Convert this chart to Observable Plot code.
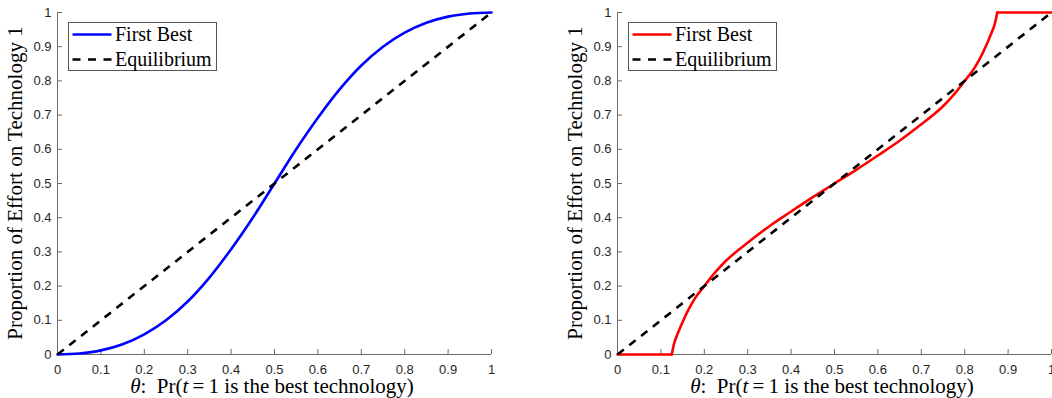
<!DOCTYPE html>
<html><head><meta charset="utf-8">
<script src="https://cdn.jsdelivr.net/npm/d3@7"></script>
<script src="https://cdn.jsdelivr.net/npm/@observablehq/plot@0.6"></script>
<style>
body{margin:0;background:#fff}
#wrap{display:flex;width:1052px;height:398px;overflow:hidden}
#wrap svg{overflow:visible;max-width:none;flex:none}
</style></head><body><div id="wrap"></div>
<script>
const xTicks = [0,0.1,0.2,0.3,0.4,0.5,0.6,0.7,0.8,0.9,1];
const yTicks = [0,0.1,0.2,0.3,0.4,0.5,0.6,0.7,0.8,0.9,1];
const tickLabels = ["0","0.1","0.2","0.3","0.4","0.5","0.6","0.7","0.8","0.9","1"];
const seriesNames = ["First Best","Equilibrium"];
const xLabelParts = [["θ",true],[":  Pr(",false],["t",true],["\u2009=\u20091 is the best technology)",false]];
const yLabel = "Proportion of Effort on Technology 1";

// Equilibrium (both panels)
const eqTheta = [0,1];
const eqShare = [0,1];

// Left panel: First Best
const leftTheta = [0,0.05,0.1,0.15,0.2,0.25,0.3,0.35,0.4,0.45,0.5,0.55,0.6,0.65,0.7,0.75,0.8,0.85,0.9,0.95,1];
const leftShare = [0,0.003,0.012,0.03,0.059,0.1,0.155,0.225,0.308,0.4,0.5,0.6,0.692,0.775,0.845,0.9,0.941,0.97,0.988,0.997,1];

// Right panel: First Best (three pieces)
const rightLowTheta = [0,0.125];
const rightLowShare = [0,0];
const rightMidTheta = [0.125,0.13,0.14,0.15,0.165,0.18,0.2,0.225,0.25,0.275,0.3,0.35,0.4,0.45,0.5,0.55,0.6,0.65,0.7,0.725,0.75,0.775,0.8,0.82,0.835,0.85,0.86,0.87,0.875];
const rightMidShare = [0,0.03,0.065,0.095,0.135,0.167,0.2,0.24,0.274,0.302,0.327,0.375,0.418,0.46,0.5,0.54,0.582,0.625,0.673,0.698,0.726,0.76,0.8,0.833,0.865,0.905,0.935,0.97,1];
const rightHighTheta = [0.875,1];
const rightHighShare = [1,1];

const zip = (xs, ys) => xs.map((x, i) => ({theta: x, share: ys[i]}));
const axisColor = "#6a6a6a";
const serif = "'Liberation Serif','Times New Roman',serif";
const sans = "'Liberation Sans',Arial,sans-serif";
const fmt = d => tickLabels[Math.round(d * 10)];

function chart({width, marginLeft, marginRight, pieces, color}) {
  const marginTop = 12, marginBottom = 44, height = 398;
  const el = Plot.plot({
    width, height, marginLeft, marginRight, marginTop, marginBottom,
    x: {domain: [0, 1]},
    y: {domain: [0, 1]},
    style: {fontFamily: sans, fontSize: "13px", color: "#262626", background: "white"},
    marks: [
      Plot.axisX({ticks: xTicks, tickSize: 0, tickPadding: 10, tickFormat: fmt, label: null, fontSize: 13, fill: "#262626"}),
      Plot.axisY({ticks: yTicks, tickSize: 0, tickPadding: 6, tickFormat: fmt, label: null, fontSize: 13, fill: "#262626"}),
      Plot.ruleY([0], {stroke: axisColor}),
      Plot.ruleX([0], {stroke: axisColor}),
      Plot.ruleX(xTicks, {x: d => d, y1: 0, y2: 0, insetBottom: 5, stroke: axisColor}),
      Plot.ruleY(yTicks, {y: d => d, x1: 0, x2: 0, insetRight: -5, stroke: axisColor}),
      ...pieces.map(p => Plot.line(p, {x: "theta", y: "share", stroke: color, strokeWidth: 2.6, curve: p.length > 2 ? "monotone-x" : "linear"})),
      Plot.line(zip(eqTheta, eqShare), {x: "theta", y: "share", stroke: "black", strokeWidth: 2.6, strokeDasharray: "8,7", strokeLinecap: "butt"})
    ]
  });
  const svg = d3.select(el);
  svg.selectAll("text").attr("font-size", 13).style("font-size", "13px").style("font-family", sans);
  const fw = width - marginLeft - marginRight;
  // x label
  const xl = svg.append("text").attr("x", marginLeft + fw / 2 - 2).attr("y", 393)
    .attr("text-anchor", "middle").attr("font-family", serif).attr("font-size", 21)
    .attr("fill", "black").style("white-space", "pre");
  xLabelParts.forEach(([t, it]) => xl.append("tspan").attr("font-style", it ? "italic" : "normal").text(t));
  // y label
  svg.append("text").attr("transform", `translate(${marginLeft - 35},${marginTop + (height - marginTop - marginBottom) / 2}) rotate(-90)`)
    .attr("text-anchor", "middle").attr("font-family", serif).attr("font-size", 21).attr("fill", "black").text(yLabel);
  // legend
  const lx = marginLeft + 11, ly = 22.5;
  const lg = svg.append("g").attr("text-anchor", "start");
  lg.append("rect").attr("x", lx + 0.5).attr("y", ly).attr("width", 148).attr("height", 48)
    .attr("fill", "white").attr("stroke", "#555").attr("stroke-width", 1);
  const rows = [{c: color, dash: null, y: ly + 12}, {c: "black", dash: "8,7.5", y: ly + 37}];
  rows.forEach((r, i) => {
    lg.append("line").attr("x1", lx + 4.5).attr("x2", lx + 43.5).attr("y1", r.y).attr("y2", r.y)
      .attr("stroke", r.c).attr("stroke-width", 2.6).attr("stroke-dasharray", r.dash);
    lg.append("text").attr("x", lx + 47).attr("y", r.y + 6.5).attr("font-family", serif)
      .attr("text-anchor", "start").attr("font-size", 20).attr("fill", "black").text(seriesNames[i]);
  });
  return el;
}

const wrap = document.getElementById("wrap");
wrap.appendChild(chart({width: 560, marginLeft: 57, marginRight: 69, color: "#0000ff",
  pieces: [zip(leftTheta, leftShare)]}));
wrap.appendChild(chart({width: 492, marginLeft: 57, marginRight: 1, color: "#ff0000",
  pieces: [zip(rightLowTheta, rightLowShare), zip(rightMidTheta, rightMidShare), zip(rightHighTheta, rightHighShare)]}));
</script></body></html>
